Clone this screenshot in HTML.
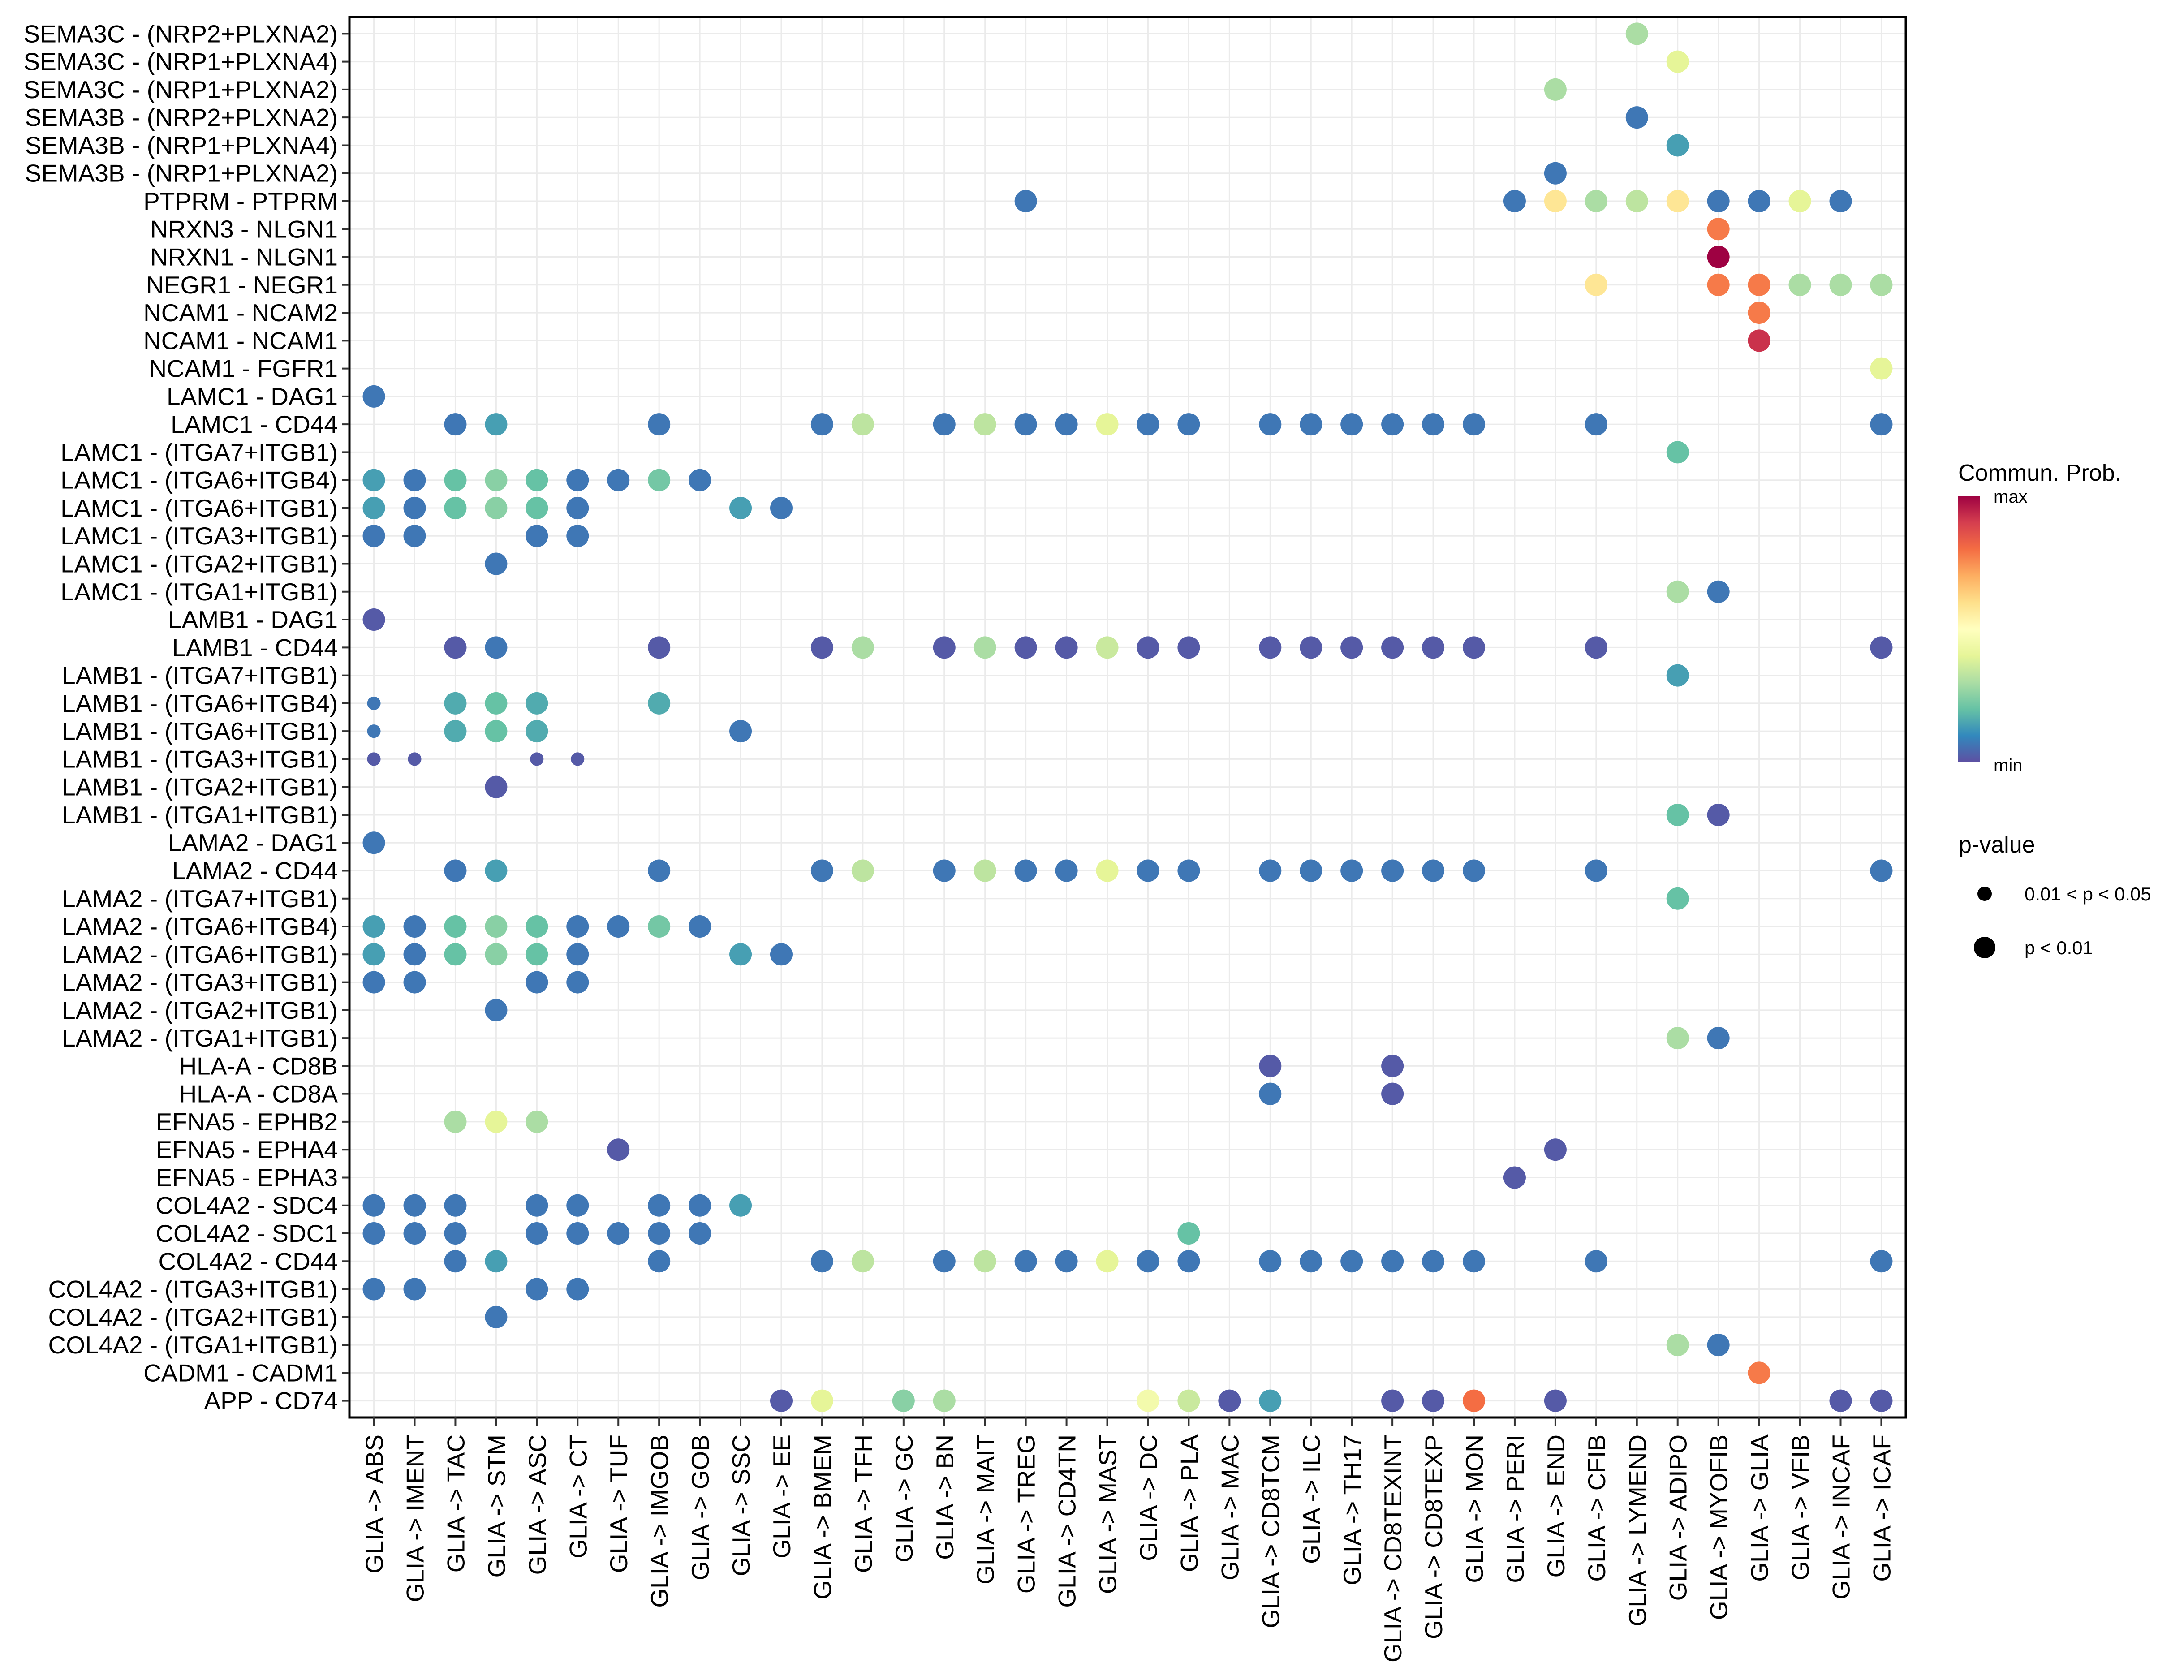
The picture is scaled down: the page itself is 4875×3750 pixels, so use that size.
<!DOCTYPE html>
<html><head><meta charset="utf-8"><style>
html,body{margin:0;padding:0;background:#fff}
svg{display:block;font-family:"Liberation Sans",sans-serif}
</style></head><body>
<svg id="chart" width="4875" height="3750" viewBox="0 0 4875 3750" xmlns="http://www.w3.org/2000/svg">
<rect width="4875" height="3750" fill="#fff"/>
<g id="grid"></g>
<g id="dotsG"></g>
<rect x="780" y="38" width="3474" height="3126" fill="none" stroke="#000" stroke-width="5"/>
<g id="yax"></g>
<g id="xax"></g>
<g>
<defs><linearGradient id="spec" x1="0" y1="1" x2="0" y2="0">
<stop offset="0" stop-color="#5E4FA2"/><stop offset="0.1" stop-color="#3288BD"/><stop offset="0.2" stop-color="#66C2A5"/><stop offset="0.3" stop-color="#ABDDA4"/><stop offset="0.4" stop-color="#E6F598"/><stop offset="0.5" stop-color="#FFFFBF"/><stop offset="0.6" stop-color="#FEE08B"/><stop offset="0.7" stop-color="#FDAE61"/><stop offset="0.8" stop-color="#F46D43"/><stop offset="0.9" stop-color="#D53E4F"/><stop offset="1" stop-color="#9E0142"/></linearGradient></defs>
<text x="4371" y="1073" font-size="52">Commun. Prob.</text>
<rect x="4370" y="1107" width="50" height="595" fill="url(#spec)"/>
<text x="4450" y="1122" font-size="40">max</text>
<text x="4450" y="1722" font-size="40">min</text>
</g>
<g>
<text x="4372" y="1903" font-size="52">p-value</text>
<circle cx="4430" cy="1995" r="16" fill="#000"/>
<text x="4519" y="2010" font-size="42">0.01 &lt; p &lt; 0.05</text>
<circle cx="4430" cy="2115" r="24" fill="#000"/>
<text x="4519" y="2130" font-size="42">p &lt; 0.01</text>
</g>
</svg>
<script>
const rowLabels = ["SEMA3C - (NRP2+PLXNA2)","SEMA3C - (NRP1+PLXNA4)","SEMA3C - (NRP1+PLXNA2)","SEMA3B - (NRP2+PLXNA2)","SEMA3B - (NRP1+PLXNA4)","SEMA3B - (NRP1+PLXNA2)","PTPRM - PTPRM","NRXN3 - NLGN1","NRXN1 - NLGN1","NEGR1 - NEGR1","NCAM1 - NCAM2","NCAM1 - NCAM1","NCAM1 - FGFR1","LAMC1 - DAG1","LAMC1 - CD44","LAMC1 - (ITGA7+ITGB1)","LAMC1 - (ITGA6+ITGB4)","LAMC1 - (ITGA6+ITGB1)","LAMC1 - (ITGA3+ITGB1)","LAMC1 - (ITGA2+ITGB1)","LAMC1 - (ITGA1+ITGB1)","LAMB1 - DAG1","LAMB1 - CD44","LAMB1 - (ITGA7+ITGB1)","LAMB1 - (ITGA6+ITGB4)","LAMB1 - (ITGA6+ITGB1)","LAMB1 - (ITGA3+ITGB1)","LAMB1 - (ITGA2+ITGB1)","LAMB1 - (ITGA1+ITGB1)","LAMA2 - DAG1","LAMA2 - CD44","LAMA2 - (ITGA7+ITGB1)","LAMA2 - (ITGA6+ITGB4)","LAMA2 - (ITGA6+ITGB1)","LAMA2 - (ITGA3+ITGB1)","LAMA2 - (ITGA2+ITGB1)","LAMA2 - (ITGA1+ITGB1)","HLA-A - CD8B","HLA-A - CD8A","EFNA5 - EPHB2","EFNA5 - EPHA4","EFNA5 - EPHA3","COL4A2 - SDC4","COL4A2 - SDC1","COL4A2 - CD44","COL4A2 - (ITGA3+ITGB1)","COL4A2 - (ITGA2+ITGB1)","COL4A2 - (ITGA1+ITGB1)","CADM1 - CADM1","APP - CD74"];
const colLabels = ["ABS","IMENT","TAC","STM","ASC","CT","TUF","IMGOB","GOB","SSC","EE","BMEM","TFH","GC","BN","MAIT","TREG","CD4TN","MAST","DC","PLA","MAC","CD8TCM","ILC","TH17","CD8TEXINT","CD8TEXP","MON","PERI","END","CFIB","LYMEND","ADIPO","MYOFIB","GLIA","VFIB","INCAF","ICAF"];
// [row, col, value(0..1), significance: 1 = p<0.01, 0 = 0.01<p<0.05]
const dots = [
[0,31,.3,1],[1,32,.4,1],[2,29,.3,1],[3,31,.07,1],[4,32,.14,1],[5,29,.07,1],
[6,16,.07,1],[6,28,.07,1],[6,29,.58,1],[6,30,.3,1],[6,31,.33,1],[6,32,.58,1],[6,33,.07,1],[6,34,.07,1],[6,35,.4,1],[6,36,.07,1],
[7,33,.78,1],[8,33,1,1],
[9,30,.58,1],[9,33,.78,1],[9,34,.78,1],[9,35,.3,1],[9,36,.3,1],[9,37,.3,1],
[10,34,.78,1],[11,34,.92,1],[12,37,.4,1],[13,0,.07,1],
[14,2,.07,1],[14,3,.14,1],[14,7,.07,1],[14,11,.07,1],[14,12,.33,1],[14,14,.07,1],[14,15,.33,1],[14,16,.07,1],[14,17,.07,1],[14,18,.4,1],[14,19,.07,1],[14,20,.07,1],[14,22,.07,1],[14,23,.07,1],[14,24,.07,1],[14,25,.07,1],[14,26,.07,1],[14,27,.07,1],[14,30,.07,1],[14,37,.07,1],
[15,32,.2,1],
[16,0,.14,1],[16,1,.07,1],[16,2,.2,1],[16,3,.25,1],[16,4,.2,1],[16,5,.07,1],[16,6,.07,1],[16,7,.22,1],[16,8,.07,1],
[17,0,.14,1],[17,1,.07,1],[17,2,.2,1],[17,3,.25,1],[17,4,.2,1],[17,5,.07,1],[17,9,.14,1],[17,10,.07,1],
[18,0,.07,1],[18,1,.07,1],[18,4,.07,1],[18,5,.07,1],
[19,3,.07,1],[20,32,.3,1],[20,33,.07,1],[21,0,.02,1],
[22,2,.02,1],[22,3,.07,1],[22,7,.02,1],[22,11,.02,1],[22,12,.3,1],[22,14,.02,1],[22,15,.3,1],[22,16,.02,1],[22,17,.02,1],[22,18,.35,1],[22,19,.02,1],[22,20,.02,1],[22,22,.02,1],[22,23,.02,1],[22,24,.02,1],[22,25,.02,1],[22,26,.02,1],[22,27,.02,1],[22,30,.02,1],[22,37,.02,1],
[23,32,.14,1],
[24,0,.07,0],[24,2,.16,1],[24,3,.2,1],[24,4,.16,1],[24,7,.16,1],
[25,0,.07,0],[25,2,.16,1],[25,3,.2,1],[25,4,.16,1],[25,9,.07,1],
[26,0,.02,0],[26,1,.02,0],[26,4,.02,0],[26,5,.02,0],
[27,3,.02,1],[28,32,.2,1],[28,33,.02,1],[29,0,.07,1],
[30,2,.07,1],[30,3,.14,1],[30,7,.07,1],[30,11,.07,1],[30,12,.33,1],[30,14,.07,1],[30,15,.33,1],[30,16,.07,1],[30,17,.07,1],[30,18,.4,1],[30,19,.07,1],[30,20,.07,1],[30,22,.07,1],[30,23,.07,1],[30,24,.07,1],[30,25,.07,1],[30,26,.07,1],[30,27,.07,1],[30,30,.07,1],[30,37,.07,1],
[31,32,.2,1],
[32,0,.14,1],[32,1,.07,1],[32,2,.2,1],[32,3,.25,1],[32,4,.2,1],[32,5,.07,1],[32,6,.07,1],[32,7,.22,1],[32,8,.07,1],
[33,0,.14,1],[33,1,.07,1],[33,2,.2,1],[33,3,.25,1],[33,4,.2,1],[33,5,.07,1],[33,9,.14,1],[33,10,.07,1],
[34,0,.07,1],[34,1,.07,1],[34,4,.07,1],[34,5,.07,1],
[35,3,.07,1],[36,32,.3,1],[36,33,.07,1],
[37,22,.02,1],[37,25,.02,1],[38,22,.07,1],[38,25,.02,1],
[39,2,.3,1],[39,3,.4,1],[39,4,.3,1],
[40,6,.02,1],[40,29,.02,1],[41,28,.02,1],
[42,0,.07,1],[42,1,.07,1],[42,2,.07,1],[42,4,.07,1],[42,5,.07,1],[42,7,.07,1],[42,8,.07,1],[42,9,.14,1],
[43,0,.07,1],[43,1,.07,1],[43,2,.07,1],[43,4,.07,1],[43,5,.07,1],[43,6,.07,1],[43,7,.07,1],[43,8,.07,1],[43,20,.2,1],
[44,2,.07,1],[44,3,.14,1],[44,7,.07,1],[44,11,.07,1],[44,12,.33,1],[44,14,.07,1],[44,15,.33,1],[44,16,.07,1],[44,17,.07,1],[44,18,.4,1],[44,19,.07,1],[44,20,.07,1],[44,22,.07,1],[44,23,.07,1],[44,24,.07,1],[44,25,.07,1],[44,26,.07,1],[44,27,.07,1],[44,30,.07,1],[44,37,.07,1],
[45,0,.07,1],[45,1,.07,1],[45,4,.07,1],[45,5,.07,1],
[46,3,.07,1],[47,32,.3,1],[47,33,.07,1],[48,34,.78,1],
[49,10,.02,1],[49,11,.4,1],[49,13,.25,1],[49,14,.3,1],[49,19,.45,1],[49,20,.35,1],[49,21,.02,1],[49,22,.14,1],[49,25,.02,1],[49,26,.02,1],[49,27,.8,1],[49,29,.02,1],[49,36,.02,1],[49,37,.02,1]
];
const palette = ["#5E4FA2","#3288BD","#66C2A5","#ABDDA4","#E6F598","#FFFFBF","#FEE08B","#FDAE61","#F46D43","#D53E4F","#9E0142"];
</script>
<script>
const NS="http://www.w3.org/2000/svg";
const PL=780,PR=4254,PT=38,PB=3164;
const nR=rowLabels.length,nC=colLabels.length;
const rU=(PB-PT)/(nR-1+1.2), cU=(PR-PL)/(nC-1+1.2);
function yPos(r){return PT+(0.6+r)*rU;}
function xPos(c){return PL+(0.6+c)*cU;}
function color(v){v=Math.max(0,Math.min(1,v));const t=v*10,i=Math.min(9,Math.floor(t)),f=t-i;
const a=palette[i],b=palette[i+1];const h=(s,k)=>parseInt(s.substr(1+2*k,2),16);
let o="rgb(";for(let k=0;k<3;k++){o+=Math.round(h(a,k)+(h(b,k)-h(a,k))*f)+(k<2?",":")");}return o;}
function mk(tag,attrs,parent){const e=document.createElementNS(NS,tag);for(const k in attrs)e.setAttribute(k,attrs[k]);parent.appendChild(e);return e;}
const grid=document.getElementById('grid'),yax=document.getElementById('yax'),xax=document.getElementById('xax'),dg=document.getElementById('dotsG');
rowLabels.forEach((lab,r)=>{
 const y=yPos(r);
 const g=mk('line',{x1:PL,x2:PR,y1:y,y2:y,stroke:'#ebebeb','stroke-width':3},grid);
 
 
 const t=mk('line',{x1:PL-17,x2:PL,y1:y,y2:y,stroke:'#333','stroke-width':4},yax);
 
 
 const tx=mk('text',{x:PL-26,y:y+19,'font-size':55,'text-anchor':'end',fill:'#000'},yax);
 tx.textContent=lab;
 
 
});
colLabels.forEach((lab,c)=>{
 const x=xPos(c);
 const g=mk('line',{x1:x,x2:x,y1:PT,y2:PB,stroke:'#ebebeb','stroke-width':3},grid);
 
 
 const t=mk('line',{x1:x,x2:x,y1:PB,y2:PB+18,stroke:'#333','stroke-width':4},xax);
 
 
 const tx=mk('text',{x:0,y:0,'font-size':55,'text-anchor':'end',fill:'#000',transform:`translate(${x+20},${PB+38}) rotate(-90)`},xax);
 tx.textContent='GLIA -> '+lab;
 
 
});
dots.forEach(d=>{
 const c=mk('circle',{cx:xPos(d[1]),cy:yPos(d[0]),r:d[3]?25:15,fill:color(d[2])},dg);
 
 
});
</script>
</body></html>
